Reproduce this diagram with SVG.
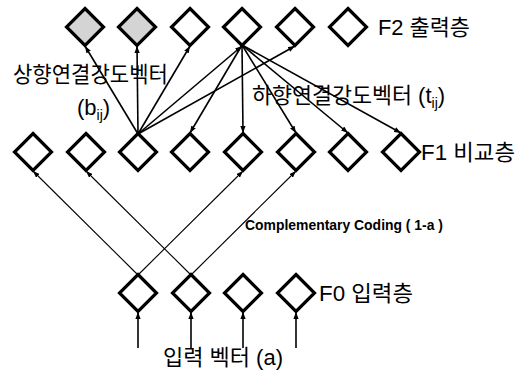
<svg xmlns="http://www.w3.org/2000/svg" width="523" height="373" viewBox="0 0 523 373">
  <style>
    .node { fill: #ffffff; stroke: #000000; stroke-width: 3.2; stroke-linejoin: miter; }
    .node.active { fill: #d4d4d4; }
    .link { stroke: #000000; stroke-width: 1.6; fill: none; }
    .thin { stroke: #000000; stroke-width: 1.1; fill: none; }
    .lbl { font-family: "Liberation Sans", "Noto Sans CJK KR", sans-serif; font-size: 22px; fill: #000000; }
    .small { font-family: "Liberation Sans", Arial, sans-serif; font-size: 14px; font-weight: bold; fill: #000000; }
  </style>
  <defs>
    <marker id="arrow" viewBox="0 0 8 6" refX="8" refY="3" markerWidth="7" markerHeight="5.5" orient="auto" markerUnits="userSpaceOnUse">
      <path d="M0,0 L8,3 L0,6 z" fill="#000000"/>
    </marker>
    <path id="dia" d="M0,-18.5 L18.5,0 L0,18.5 L-18.5,0 z"/>
  </defs>

  <!-- connectors -->
  <g id="connectors">
    <!-- bottom-up weights from F1 node 3 -->
    <line class="link" x1="138" y1="134" x2="85" y2="46" marker-end="url(#arrow)"/>
    <line class="link" x1="138" y1="134" x2="137" y2="46" marker-end="url(#arrow)"/>
    <line class="link" x1="138" y1="134" x2="190" y2="46" marker-end="url(#arrow)"/>
    <line class="link" x1="138" y1="134" x2="242" y2="46" marker-end="url(#arrow)"/>
    <line class="link" x1="138" y1="134" x2="295" y2="46" marker-end="url(#arrow)"/>
    <!-- top-down weights from F2 node 4 -->
    <line class="link" x1="242" y1="45" x2="190" y2="133" marker-end="url(#arrow)"/>
    <line class="link" x1="242" y1="45" x2="243" y2="133" marker-end="url(#arrow)"/>
    <line class="link" x1="242" y1="45" x2="296" y2="133" marker-end="url(#arrow)"/>
    <line class="link" x1="242" y1="45" x2="348" y2="133" marker-end="url(#arrow)"/>
    <line class="link" x1="242" y1="45" x2="401" y2="133" marker-end="url(#arrow)"/>
    <!-- F0 to F1 with complementary coding -->
    <line class="thin" x1="138" y1="275" x2="33" y2="171" marker-end="url(#arrow)"/>
    <line class="thin" x1="138" y1="275" x2="243" y2="171" marker-end="url(#arrow)"/>
    <line class="thin" x1="191" y1="275" x2="86" y2="171" marker-end="url(#arrow)"/>
    <line class="thin" x1="191" y1="275" x2="296" y2="171" marker-end="url(#arrow)"/>
    <!-- input vector -->
    <line class="link" x1="138" y1="348" x2="138" y2="312" marker-end="url(#arrow)"/>
    <line class="link" x1="191" y1="348" x2="191" y2="312" marker-end="url(#arrow)"/>
    <line class="link" x1="243" y1="348" x2="243" y2="312" marker-end="url(#arrow)"/>
    <line class="link" x1="296" y1="348" x2="296" y2="312" marker-end="url(#arrow)"/>
  </g>

  <!-- F2 output layer -->
  <g id="f2-1"><use href="#dia" class="node active" x="85" y="27"/></g>
  <g id="f2-2"><use href="#dia" class="node active" x="137" y="27"/></g>
  <g id="f2-3"><use href="#dia" class="node" x="190" y="27"/></g>
  <g id="f2-4"><use href="#dia" class="node" x="242" y="27"/></g>
  <g id="f2-5"><use href="#dia" class="node" x="295" y="27"/></g>
  <g id="f2-6"><use href="#dia" class="node" x="348" y="27"/></g>

  <!-- F1 comparison layer -->
  <g id="f1-1"><use href="#dia" class="node" x="33" y="152"/></g>
  <g id="f1-2"><use href="#dia" class="node" x="86" y="152"/></g>
  <g id="f1-3"><use href="#dia" class="node" x="138" y="152"/></g>
  <g id="f1-4"><use href="#dia" class="node" x="190" y="152"/></g>
  <g id="f1-5"><use href="#dia" class="node" x="243" y="152"/></g>
  <g id="f1-6"><use href="#dia" class="node" x="296" y="152"/></g>
  <g id="f1-7"><use href="#dia" class="node" x="348" y="152"/></g>
  <g id="f1-8"><use href="#dia" class="node" x="401" y="152"/></g>

  <!-- F0 input layer -->
  <g id="f0-1"><use href="#dia" class="node" x="138" y="293"/></g>
  <g id="f0-2"><use href="#dia" class="node" x="191" y="293"/></g>
  <g id="f0-3"><use href="#dia" class="node" x="243" y="293"/></g>
  <g id="f0-4"><use href="#dia" class="node" x="296" y="293"/></g>

  <!-- labels -->
  <g id="labels">
    <text class="lbl" x="378" y="35" textLength="92" lengthAdjust="spacingAndGlyphs">F2 출력층</text>
    <text class="lbl" x="421" y="160" textLength="94" lengthAdjust="spacingAndGlyphs">F1 비교층</text>
    <text class="lbl" x="319" y="301" textLength="94" lengthAdjust="spacingAndGlyphs">F0 입력층</text>
    <text class="lbl" x="13" y="82" textLength="155" lengthAdjust="spacingAndGlyphs">상향연결강도벡터</text>
    <text class="lbl" x="77" y="115">(b<tspan font-size="14" dy="5">ij</tspan><tspan dy="-5">)</tspan></text>
    <text class="lbl" x="252" y="103"><tspan textLength="160" lengthAdjust="spacingAndGlyphs">하향연결강도벡터</tspan> (t<tspan font-size="14" dy="5">ij</tspan><tspan dy="-5">)</tspan></text>
    <text class="small" x="245" y="230" textLength="198" lengthAdjust="spacingAndGlyphs">Complementary Coding ( 1-a )</text>
    <text class="lbl" x="163" y="365" textLength="120" lengthAdjust="spacingAndGlyphs">입력 벡터 (a)</text>
  </g>
</svg>
